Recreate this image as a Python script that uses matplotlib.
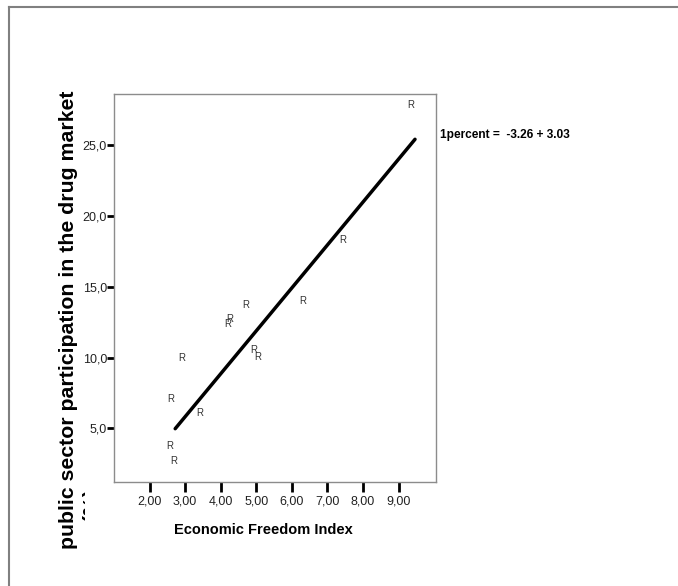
import numpy as np
import matplotlib.pyplot as plt
from matplotlib.lines import Line2D
from matplotlib.patches import Rectangle

plt.rcParams['font.family'] = ['Liberation Sans', 'DejaVu Sans']

# Economic Freedom Index vs. public sector participation (%)
freedom = [2.57, 2.69, 2.60, 2.90, 3.42, 4.20, 4.26, 4.71, 4.93, 5.04, 6.31, 7.42, 9.34]
public_pct = [3.76, 2.71, 7.10, 9.94, 6.11, 12.40, 12.75, 13.74, 10.52, 10.06, 13.97, 18.30, 27.83]

# fitted line: percent = intercept + slope * index
intercept = -3.26
slope = 3.03
fit_range = [2.72, 9.46]

xticks = [2, 3, 4, 5, 6, 7, 8, 9]
yticks = [5, 10, 15, 20, 25]

fig = plt.figure(figsize=(6.78, 5.86), dpi=100)
ax = fig.add_axes([114/678, 1 - 482/586, (436 - 114)/678, (482 - 94)/586])

for xv, yv in zip(freedom, public_pct):
    ax.text(xv, yv, 'R', ha='center', va='center', fontsize=7, color='#333333')

fx = np.array(fit_range)
ax.plot(fx, intercept + slope * fx, color='black', lw=2.5, solid_capstyle='round')

ax.set_xlim(1.0, 10.05)
ax.set_ylim(1.22, 28.6)
ax.set_xticks(xticks)
ax.set_xticklabels([('%.2f' % v).replace('.', ',') for v in xticks])
ax.set_yticks(yticks)
ax.set_yticklabels([('%.1f' % v).replace('.', ',') for v in yticks])
ax.tick_params(axis='x', direction='out', length=7, width=2, color='black',
               labelsize=9, labelcolor='#222222', pad=3)
ax.tick_params(axis='y', direction='out', length=5, width=2, color='black',
               labelsize=9, labelcolor='#222222', pad=0)
for s in ax.spines.values():
    s.set_color('#8c8c8c')
    s.set_linewidth(1.0)

fig.text(263/678, 1 - 530/586, 'Economic Freedom Index', ha='center', va='center',
         fontsize=10.5, fontweight='bold')
fig.text(69/678, 1 - 320/586, 'public sector participation in the drug market',
         rotation=90, ha='center', va='center', fontsize=15.3, fontweight='bold')
pct = fig.text(91/678, 1 - 505/586, '(%)', rotation=90, ha='center', va='center',
               fontsize=15.3, fontweight='bold')
clip = Rectangle((0, 0), 85/678, 1, transform=fig.transFigure, visible=False)
fig.add_artist(clip)
pct.set_clip_path(clip)

fig.text(440/678, 1 - 135/586, '1percent =  -3.26 + 3.03', ha='left', va='center',
         fontsize=8.6, fontweight='bold')

# outer frame
fig.add_artist(Line2D([9/678, 1], [1 - 7/586, 1 - 7/586], color='#808080', lw=1.5,
                      transform=fig.transFigure))
fig.add_artist(Line2D([9/678, 9/678], [0, 1 - 7/586], color='#808080', lw=1.5,
                      transform=fig.transFigure))

fig.savefig('out.png', dpi=100)
